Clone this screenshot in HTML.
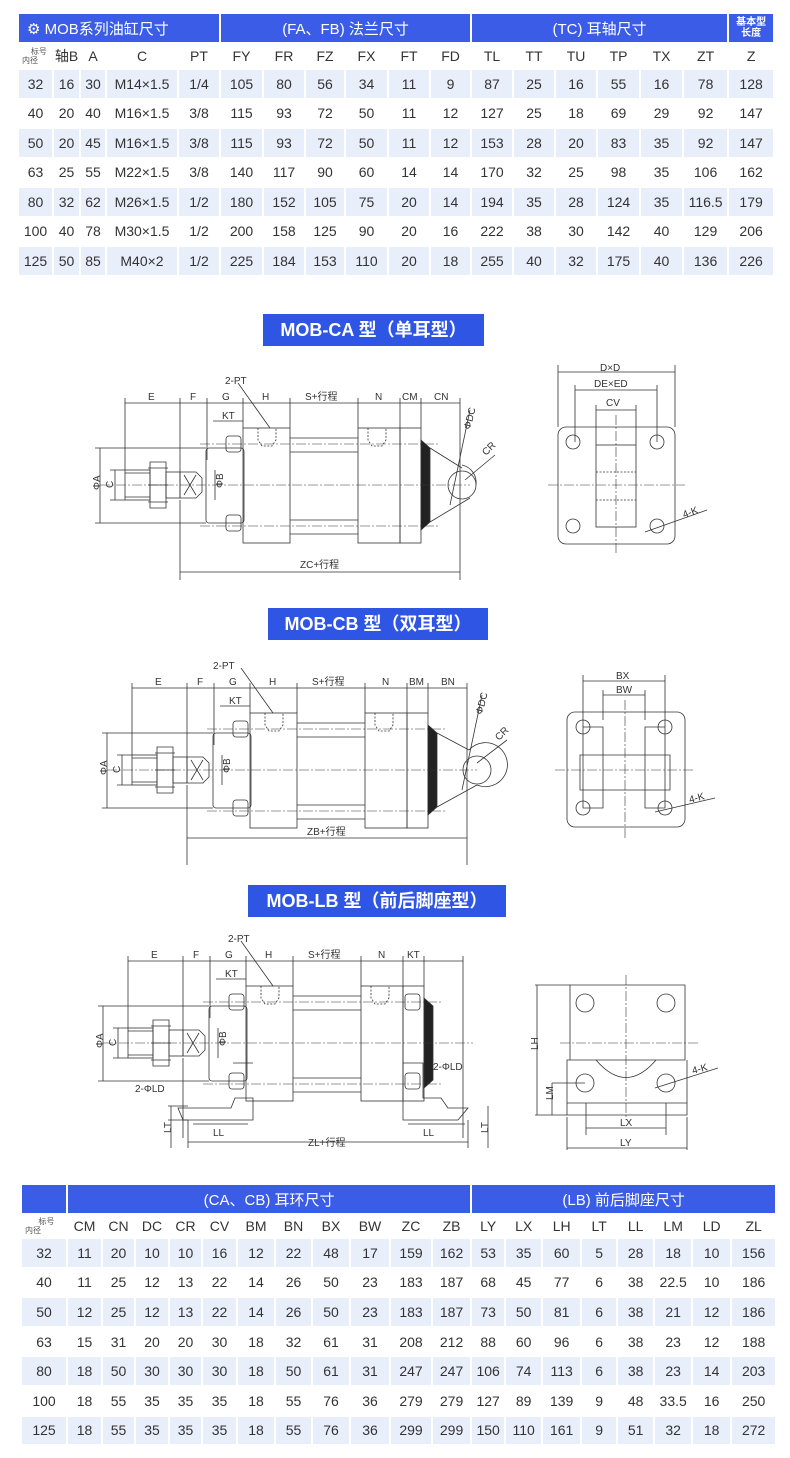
<!DOCTYPE html>
<html><head><meta charset="utf-8">
<style>
*{margin:0;padding:0;box-sizing:border-box}
body{width:790px;height:1458px;background:#fff;position:relative;font-family:"Liberation Sans","Noto Sans CJK SC",sans-serif;color:#333;overflow:hidden}
table{position:absolute;border-collapse:collapse;table-layout:fixed}
td{text-align:center;font-size:14px;border:2px solid #fff;padding:0;white-space:nowrap;overflow:hidden}
tr.h td{background:#3b5ce6;color:#fff;font-size:15px}
tr.s td{font-size:14px;color:#333}
tr.a td{background:#e9eefb}
tr.s td.small{font-size:8px;line-height:9px;text-align:left;padding-left:3px;color:#555}
.banner{position:absolute;background:#2f55e4;color:#fff;font-weight:bold;font-size:18px;text-align:center;line-height:32px;height:32px}
svg{position:absolute;left:0;top:0}
</style></head><body>

<table style="left:17px;top:12px;width:756px">
<colgroup><col style="width:35px"><col style="width:27px"><col style="width:26px"><col style="width:72px"><col style="width:42px"><col style="width:43px"><col style="width:42px"><col style="width:40px"><col style="width:43px"><col style="width:42px"><col style="width:41px"><col style="width:42px"><col style="width:42px"><col style="width:42px"><col style="width:43px"><col style="width:43px"><col style="width:45px"><col style="width:46px"></colgroup>
<tr class="h" style="height:30px"><td colspan="5" style="text-align:left;padding-left:8px">⚙ MOB系列油缸尺寸</td><td colspan="6">(FA、FB) 法兰尺寸</td><td colspan="6">(TC) 耳轴尺寸</td><td style="font-size:10px;line-height:11px;font-weight:bold">基本型<br>长度</td></tr>
<tr class="s" style="height:26px"><td class="small">&nbsp;&nbsp;&nbsp;&nbsp;标号<br>内径</td><td>轴B</td><td>A</td><td>C</td><td>PT</td><td>FY</td><td>FR</td><td>FZ</td><td>FX</td><td>FT</td><td>FD</td><td>TL</td><td>TT</td><td>TU</td><td>TP</td><td>TX</td><td>ZT</td><td>Z</td></tr>
<tr class="a" style="height:29.5px"><td>32</td><td>16</td><td>30</td><td>M14×1.5</td><td>1/4</td><td>105</td><td>80</td><td>56</td><td>34</td><td>11</td><td>9</td><td>87</td><td>25</td><td>16</td><td>55</td><td>16</td><td>78</td><td>128</td></tr>
<tr style="height:29.5px"><td>40</td><td>20</td><td>40</td><td>M16×1.5</td><td>3/8</td><td>115</td><td>93</td><td>72</td><td>50</td><td>11</td><td>12</td><td>127</td><td>25</td><td>18</td><td>69</td><td>29</td><td>92</td><td>147</td></tr>
<tr class="a" style="height:29.5px"><td>50</td><td>20</td><td>45</td><td>M16×1.5</td><td>3/8</td><td>115</td><td>93</td><td>72</td><td>50</td><td>11</td><td>12</td><td>153</td><td>28</td><td>20</td><td>83</td><td>35</td><td>92</td><td>147</td></tr>
<tr style="height:29.5px"><td>63</td><td>25</td><td>55</td><td>M22×1.5</td><td>3/8</td><td>140</td><td>117</td><td>90</td><td>60</td><td>14</td><td>14</td><td>170</td><td>32</td><td>25</td><td>98</td><td>35</td><td>106</td><td>162</td></tr>
<tr class="a" style="height:29.5px"><td>80</td><td>32</td><td>62</td><td>M26×1.5</td><td>1/2</td><td>180</td><td>152</td><td>105</td><td>75</td><td>20</td><td>14</td><td>194</td><td>35</td><td>28</td><td>124</td><td>35</td><td>116.5</td><td>179</td></tr>
<tr style="height:29.5px"><td>100</td><td>40</td><td>78</td><td>M30×1.5</td><td>1/2</td><td>200</td><td>158</td><td>125</td><td>90</td><td>20</td><td>16</td><td>222</td><td>38</td><td>30</td><td>142</td><td>40</td><td>129</td><td>206</td></tr>
<tr class="a" style="height:29.5px"><td>125</td><td>50</td><td>85</td><td>M40×2</td><td>1/2</td><td>225</td><td>184</td><td>153</td><td>110</td><td>20</td><td>18</td><td>255</td><td>40</td><td>32</td><td>175</td><td>40</td><td>136</td><td>226</td></tr>
</table>

<div class="banner" style="left:263px;top:314px;width:221px">MOB-CA 型（单耳型）</div>
<div class="banner" style="left:268px;top:608px;width:220px">MOB-CB 型（双耳型）</div>
<div class="banner" style="left:248px;top:885px;width:258px">MOB-LB 型（前后脚座型）</div>

<svg width="790" height="1458" viewBox="0 0 790 1458" font-family="Liberation Sans, sans-serif" font-size="10" fill="none" stroke="#333" stroke-width="0.8">
<defs>
<g id="cyl">
 <path d="M125 403H460" />
 <path d="M125 398V470M180 398V485M207 398V460M243 398V428M290 398V428M358 398V428M400 398V428M421 398V428M460 398V580M180 500V580"/>
 <rect x="125" y="470" width="25" height="30"/>
 <path d="M125 473H150M125 497H150"/>
 <path d="M150 462H166V508H150Z M148 468H168 M148 485H168 M148 502H168"/>
 <rect x="166" y="472" width="14" height="26"/>
 <path d="M180 472H196L202 478V492L196 498H180Z M184 475L196 495M196 475L184 495"/>
 <rect x="206" y="448" width="38" height="75" rx="3"/>
 <rect x="226" y="436" width="15" height="16" rx="3"/><rect x="226" y="515" width="15" height="16" rx="3"/>
 <rect x="243" y="428" width="47" height="115"/>
 <path d="M290 438H358M290 452H358M290 520H358M290 534H358"/>
 <rect x="358" y="428" width="42" height="115"/>
 <rect x="400" y="428" width="21" height="115"/>
 <path d="M421 440L430 448V522L421 530Z" fill="#222"/>
 <path d="M258 428V440L262 446H272L276 440V428M368 428V440L372 446H382L386 440V428" stroke-dasharray="2 1.5"/>
 <path d="M100 485H470M200 444H440M200 526H440" stroke-dasharray="10 2 2 2" stroke-width="0.6"/>
 <path d="M100 448V523M95 448H206M95 523H206M115 470V500M110 470H125M110 500H125M215 470V500"/>
 <path d="M213 421H243"/>
</g>
</defs>

<use href="#cyl"/>
<g>
 <path d="M430 448L462 468M430 522L470 498"/>
 <circle cx="462" cy="485" r="14"/>
 <path d="M476 485A18 18 0 0 0 462 465" />
 <path d="M470 410L450 505M465 480L495 455"/>
 <path d="M180 572H460"/>
 <path d="M238 383L270 428" />
</g>
<g fill="#333" stroke="none">
 <text x="148" y="400">E</text><text x="190" y="400">F</text><text x="222" y="400">G</text><text x="262" y="400">H</text>
 <text x="305" y="400">S+行程</text><text x="375" y="400">N</text><text x="402" y="400">CM</text><text x="434" y="400">CN</text>
 <text x="225" y="384">2-PT</text><text x="222" y="419">KT</text>
 <text x="300" y="568">ZC+行程</text><text x="486" y="456" transform="rotate(-45 486 456)">CR</text>
 <text x="470" y="430" transform="rotate(-75 470 430)">ΦDC</text>
 <text x="98" y="492" transform="rotate(-90 98 490)">ΦA</text><text x="111" y="490" transform="rotate(-90 111 488)">C</text><text x="223" y="492" transform="rotate(-90 221 490)">ΦB</text>
</g>

<g transform="translate(7,285)">
 <use href="#cyl"/>
 <path d="M430 448L462 465M430 522L470 500"/>
 <circle cx="470" cy="485" r="14"/><path d="M462 465A22 22 0 1 1 470 500"/>
 <path d="M475 410L455 505M470 478L500 455"/>
 <path d="M180 553H460"/><path d="M234 383L266 428"/>
</g>
<g fill="#333" stroke="none" transform="translate(7,285)">
 <text x="148" y="400">E</text><text x="190" y="400">F</text><text x="222" y="400">G</text><text x="262" y="400">H</text>
 <text x="305" y="400">S+行程</text><text x="375" y="400">N</text><text x="402" y="400">BM</text><text x="434" y="400">BN</text>
 <text x="206" y="384">2-PT</text><text x="222" y="419">KT</text>
 <text x="300" y="550">ZB+行程</text><text x="492" y="456" transform="rotate(-45 492 456)">CR</text>
 <text x="475" y="430" transform="rotate(-75 475 430)">ΦDC</text>
 <text x="98" y="492" transform="rotate(-90 98 490)">ΦA</text><text x="111" y="490" transform="rotate(-90 111 488)">C</text><text x="223" y="492" transform="rotate(-90 221 490)">ΦB</text>
</g>

<g transform="translate(3,558)">
 <use href="#cyl"/>
 <rect x="402" y="436" width="15" height="16" rx="3"/><rect x="402" y="515" width="15" height="16" rx="3"/>
 <path d="M175 550H228L232 540H250V562H180Z M230 505H250 M400 505H420V540H438L445 550H465L455 562H400Z"/>
 <path d="M165 548H185M165 562H185M168 548V590M485 548V590M185 562V590M465 562V590M185 584H465M190 566H245M405 566H462"/>
 <path d="M238 383L270 428"/>
</g>
<g fill="#333" stroke="none" transform="translate(3,558)">
 <text x="148" y="400">E</text><text x="190" y="400">F</text><text x="222" y="400">G</text><text x="262" y="400">H</text>
 <text x="305" y="400">S+行程</text><text x="375" y="400">N</text><text x="404" y="400">KT</text>
 <text x="225" y="384">2-PT</text><text x="222" y="419">KT</text>
 <text x="132" y="534">2-ΦLD</text><text x="430" y="512">2-ΦLD</text><text x="210" y="578">LL</text><text x="420" y="578">LL</text>
 <text x="305" y="588">ZL+行程</text>
 <text x="98" y="492" transform="rotate(-90 98 490)">ΦA</text><text x="111" y="490" transform="rotate(-90 111 488)">C</text><text x="223" y="492" transform="rotate(-90 221 490)">ΦB</text>
 <text x="166" y="577" transform="rotate(-90 166 575)">LT</text><text x="483" y="577" transform="rotate(-90 483 575)">LT</text>
</g>

<rect x="558" y="427" width="117" height="117" rx="8"/>
<rect x="596" y="445" width="40" height="82"/>
<path d="M596 472H636M596 500H636" stroke-dasharray="2 1.5"/>
<path d="M558 365V427M675 365V427M575 385V442M657 385V442M596 405V445M636 405V445M558 372H675M575 390H657M596 410H636"/>
<path d="M548 485H685M616 415V555" stroke-dasharray="10 2 2 2" stroke-width="0.6"/>
<circle cx="573" cy="442" r="7"/><circle cx="657" cy="442" r="7"/><circle cx="573" cy="526" r="7"/><circle cx="657" cy="526" r="7"/>
<path d="M645 532L707 510"/>
<rect x="567" y="712" width="118" height="115" rx="8"/>
<path d="M583 727H603V808H583ZM645 727H665V808H645ZM580 755H670V790H580Z"/>
<path d="M583 675V727M665 675V727M603 690V720M645 690V720M583 681H665M603 695H645"/>
<path d="M555 770H695M625 700V840" stroke-dasharray="10 2 2 2" stroke-width="0.6"/>
<circle cx="583" cy="727" r="7"/><circle cx="665" cy="727" r="7"/><circle cx="583" cy="808" r="7"/><circle cx="665" cy="808" r="7"/>
<path d="M655 812L715 798"/>
<path d="M570 985H685V1060H567V1115H687V1060 M570 985V1060 M567 1103H687"/>
<path d="M596 1060Q626 1095 656 1060" />
<circle cx="585" cy="1003" r="9"/><circle cx="666" cy="1003" r="9"/><circle cx="585" cy="1083" r="9"/><circle cx="666" cy="1083" r="9"/>
<path d="M535 985H570M535 1115H567M537 985V1115M552 1083V1115M552 1083H585M586 1103V1135M666 1103V1135M567 1117V1150M687 1117V1150M586 1128H666M567 1148H687M655 1088L718 1068"/>
<path d="M560 1043H700M626 975V1120" stroke-dasharray="10 2 2 2" stroke-width="0.6"/>
<g fill="#333" stroke="none">
 <text x="600" y="371">D×D</text><text x="594" y="387">DE×ED</text><text x="606" y="406">CV</text><text x="684" y="518" transform="rotate(-20 684 518)">4-K</text>
 <text x="616" y="679">BX</text><text x="616" y="693">BW</text><text x="690" y="803" transform="rotate(-15 690 803)">4-K</text>
 <text x="620" y="1126">LX</text><text x="620" y="1146">LY</text><text x="693" y="1074" transform="rotate(-15 693 1074)">4-K</text>
 <text x="533" y="1055" transform="rotate(-90 533 1050)">LH</text><text x="549" y="1104" transform="rotate(-90 549 1100)">LM</text>
</g>
</svg>

<table style="left:20px;top:1183px;width:755px">
<colgroup><col style="width:46px"><col style="width:35px"><col style="width:33px"><col style="width:34px"><col style="width:33px"><col style="width:35px"><col style="width:38px"><col style="width:37px"><col style="width:38px"><col style="width:40px"><col style="width:42px"><col style="width:39px"><col style="width:34px"><col style="width:37px"><col style="width:39px"><col style="width:36px"><col style="width:37px"><col style="width:38px"><col style="width:39px"><col style="width:45px"></colgroup>
<tr class="h" style="height:30px"><td></td><td colspan="11">(CA、CB) 耳环尺寸</td><td colspan="8">(LB) 前后脚座尺寸</td></tr>
<tr class="s" style="height:24px"><td class="small">&nbsp;&nbsp;&nbsp;&nbsp;&nbsp;&nbsp;标号<br>内径</td><td>CM</td><td>CN</td><td>DC</td><td>CR</td><td>CV</td><td>BM</td><td>BN</td><td>BX</td><td>BW</td><td>ZC</td><td>ZB</td><td>LY</td><td>LX</td><td>LH</td><td>LT</td><td>LL</td><td>LM</td><td>LD</td><td>ZL</td></tr>
<tr class="a" style="height:29.6px"><td>32</td><td>11</td><td>20</td><td>10</td><td>10</td><td>16</td><td>12</td><td>22</td><td>48</td><td>17</td><td>159</td><td>162</td><td>53</td><td>35</td><td>60</td><td>5</td><td>28</td><td>18</td><td>10</td><td>156</td></tr>
<tr style="height:29.6px"><td>40</td><td>11</td><td>25</td><td>12</td><td>13</td><td>22</td><td>14</td><td>26</td><td>50</td><td>23</td><td>183</td><td>187</td><td>68</td><td>45</td><td>77</td><td>6</td><td>38</td><td>22.5</td><td>10</td><td>186</td></tr>
<tr class="a" style="height:29.6px"><td>50</td><td>12</td><td>25</td><td>12</td><td>13</td><td>22</td><td>14</td><td>26</td><td>50</td><td>23</td><td>183</td><td>187</td><td>73</td><td>50</td><td>81</td><td>6</td><td>38</td><td>21</td><td>12</td><td>186</td></tr>
<tr style="height:29.6px"><td>63</td><td>15</td><td>31</td><td>20</td><td>20</td><td>30</td><td>18</td><td>32</td><td>61</td><td>31</td><td>208</td><td>212</td><td>88</td><td>60</td><td>96</td><td>6</td><td>38</td><td>23</td><td>12</td><td>188</td></tr>
<tr class="a" style="height:29.6px"><td>80</td><td>18</td><td>50</td><td>30</td><td>30</td><td>30</td><td>18</td><td>50</td><td>61</td><td>31</td><td>247</td><td>247</td><td>106</td><td>74</td><td>113</td><td>6</td><td>38</td><td>23</td><td>14</td><td>203</td></tr>
<tr style="height:29.6px"><td>100</td><td>18</td><td>55</td><td>35</td><td>35</td><td>35</td><td>18</td><td>55</td><td>76</td><td>36</td><td>279</td><td>279</td><td>127</td><td>89</td><td>139</td><td>9</td><td>48</td><td>33.5</td><td>16</td><td>250</td></tr>
<tr class="a" style="height:29.6px"><td>125</td><td>18</td><td>55</td><td>35</td><td>35</td><td>35</td><td>18</td><td>55</td><td>76</td><td>36</td><td>299</td><td>299</td><td>150</td><td>110</td><td>161</td><td>9</td><td>51</td><td>32</td><td>18</td><td>272</td></tr>
</table>
</body></html>
